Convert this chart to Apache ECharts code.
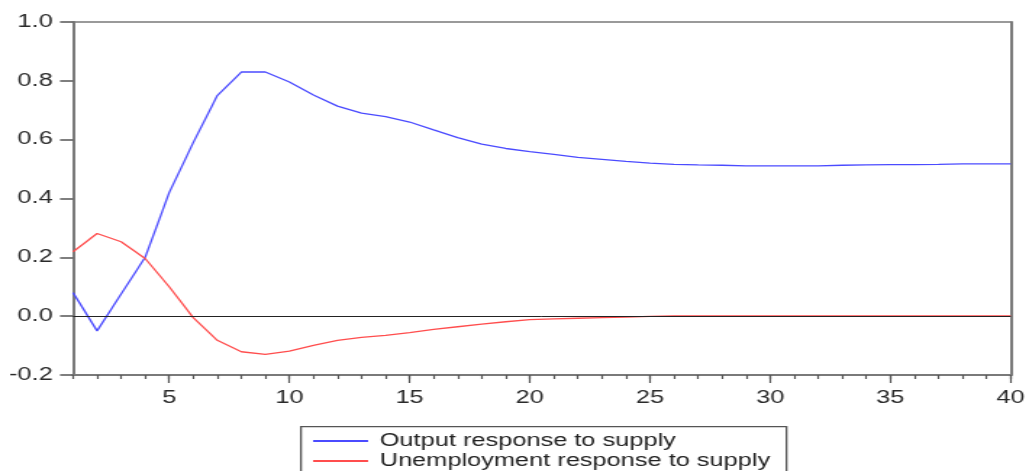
<!DOCTYPE html>
<html><head><meta charset="utf-8">
<script src="https://cdn.jsdelivr.net/npm/echarts@6/dist/echarts.min.js"></script>
<style>
html,body{margin:0;padding:0;background:#fff;overflow:hidden}
#wrap{width:1029px;height:471px;overflow:hidden}
#c{width:710px;height:471px;transform:scaleX(1.44930);transform-origin:0 0}
</style>
</head><body><div id="wrap"><div id="c"></div></div>
<script>
const periods = Array.from({length: 40}, (_, i) => i + 1);
const outputResp = [0.08, -0.05, 0.075, 0.20, 0.42, 0.59, 0.75, 0.83, 0.83, 0.796,
  0.752, 0.714, 0.69, 0.678, 0.66, 0.633, 0.607, 0.585, 0.57, 0.559,
  0.55, 0.54, 0.533, 0.526, 0.52, 0.516, 0.514, 0.513, 0.511, 0.511,
  0.511, 0.511, 0.513, 0.514, 0.515, 0.515, 0.516, 0.518, 0.518, 0.518];
const unempResp = [0.219, 0.281, 0.253, 0.196, 0.10, -0.005, -0.082, -0.121, -0.13, -0.119,
  -0.099, -0.082, -0.072, -0.065, -0.056, -0.045, -0.036, -0.027, -0.019, -0.012,
  -0.009, -0.007, -0.005, -0.003, -0.001, 0.001, 0.001, 0.001, 0.001, 0.001,
  0.001, 0.001, 0.001, 0.001, 0.001, 0.001, 0.001, 0.001, 0.001, 0.001];
const majorTicks = [5, 10, 15, 20, 25, 30, 35, 40];
const seriesNames = ['Output response to supply', 'Unemployment response to supply'];

const font = '"Liberation Sans", Arial, sans-serif';
const axisGrey = '#7a7a7a';
const blue = '#4b4bff', red = '#ff4d4d';
const chart = echarts.init(document.getElementById('c'), null, {renderer: 'canvas'});
chart.setOption({
  animation: false,
  grid: {left: 50.4, right: 11, top: 22, bottom: 96},
  graphic: [{
    type: 'rect', left: 207, top: 426, silent: true,
    shape: {width: 335, height: 60},
    style: {fill: '#fff', stroke: '#555', lineWidth: 1.3}
  }],
  legend: {
    orient: 'vertical', left: 216, top: 431,
    itemWidth: 38, itemHeight: 2, itemGap: 0, padding: 0,
    icon: 'rect',
    textStyle: {fontFamily: font, fontSize: 17.5, color: '#222', lineHeight: 20, padding: [0, 0, 0, 3]},
    data: seriesNames
  },
  xAxis: [{
    type: 'value', min: 1, max: 40, position: 'bottom',
    axisLine: {show: true, onZero: false, lineStyle: {color: axisGrey, width: 2}},
    axisTick: {show: true, customValues: periods, length: 4, inside: false, lineStyle: {color: '#555', width: 1.2}},
    axisLabel: {show: false},
    splitLine: {show: false}
  }, {
    type: 'value', min: 1, max: 40, position: 'bottom',
    axisLine: {show: false, onZero: false},
    axisTick: {show: true, customValues: majorTicks, length: 8, lineStyle: {color: '#555', width: 1.2}},
    axisLabel: {show: true, customValues: majorTicks, fontFamily: font, fontSize: 17.5, color: '#2a2a2a', margin: 14},
    splitLine: {show: false}
  }, {
    type: 'value', min: 1, max: 40, position: 'top',
    axisLine: {show: true, onZero: false, lineStyle: {color: axisGrey, width: 1.5}},
    axisTick: {show: false}, axisLabel: {show: false}, splitLine: {show: false}
  }],
  yAxis: [{
    type: 'value', min: -0.2, max: 1.0, interval: 0.2, position: 'left',
    axisLine: {show: true, onZero: false, lineStyle: {color: axisGrey, width: 2}},
    axisTick: {show: true, length: 9, lineStyle: {color: '#555', width: 1.5}},
    axisLabel: {fontFamily: font, fontSize: 17.5, color: '#2a2a2a', margin: 14,
      formatter: v => v.toFixed(1)},
    splitLine: {show: false}
  }, {
    type: 'value', min: -0.2, max: 1.0, interval: 0.2, position: 'right',
    axisLine: {show: true, onZero: false, lineStyle: {color: axisGrey, width: 2}},
    axisTick: {show: false}, axisLabel: {show: false}, splitLine: {show: false}
  }],
  series: [{
    name: seriesNames[0], type: 'line', symbol: 'none',
    data: periods.map((p, i) => [p, outputResp[i]]),
    lineStyle: {color: blue, width: 1.3}, itemStyle: {color: blue},
    markLine: {silent: true, symbol: 'none', label: {show: false},
      lineStyle: {color: '#222', width: 1, type: 'solid'}, data: [{yAxis: 0}]},
    z: 3
  }, {
    name: seriesNames[1], type: 'line', symbol: 'none',
    data: periods.map((p, i) => [p, unempResp[i]]),
    lineStyle: {color: red, width: 1.3}, itemStyle: {color: red},
    z: 3
  }]
});
</script></body></html>
